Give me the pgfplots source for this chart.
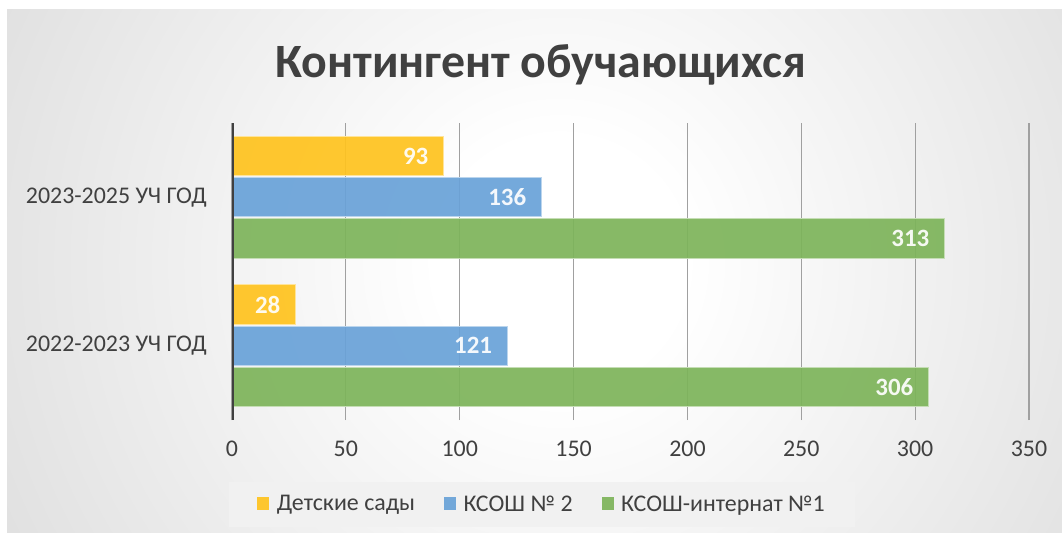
\documentclass[border=0pt]{standalone}
\usepackage{fontspec}
\setmainfont{Carlito}
\usepackage{pgfplots}
\pgfplotsset{compat=1.18}
\definecolor{cY}{RGB}{255,195,30}
\definecolor{cB}{RGB}{105,162,216}
\definecolor{cG}{RGB}{125,180,90}
\definecolor{txt}{RGB}{64,64,64}
\definecolor{gridc}{RGB}{160,160,160}
\definecolor{bgout}{RGB}{194,194,194}
\definecolor{legfill}{RGB}{241,241,241}
\pgfdeclareradialshading{bgshade}{\pgfpoint{0bp}{0bp}}{color(0bp)=(white); color(5bp)=(white); color(45bp)=(bgout); color(50bp)=(bgout)}
\begin{document}
\begin{tikzpicture}
\path[use as bounding box] (0bp,0bp) rectangle (1062bp,533bp);
\fill[white] (0bp,0bp) rectangle (1062bp,533bp);
\begin{scope}
\clip (7bp,0bp) rectangle (1062bp,523bp);
\shade[shading=bgshade] (560bp,270bp) circle (620bp);
\end{scope}
\node[font=\fontsize{48}{56}\selectfont\bfseries, text=txt, anchor=base, inner sep=0pt] at (541bp,455bp) {Контингент обучающихся};
\begin{axis}[
  at={(232bp,113bp)}, anchor=south west,
  scale only axis, width=797bp, height=297bp,
  xmin=0, xmax=350, ymin=-0.5, ymax=1.5,
  xbar, bar width=0.265,
  axis line style={draw=none},
  xtick={0,50,...,350}, ytick={0,1},
  yticklabels={2022-2023 УЧ ГОД, 2023-2025 УЧ ГОД},
  major tick length=0pt,
  xmajorgrids, grid style={draw=gridc, line width=1.1bp},
  /pgf/number format/assume math mode=true,
  xticklabel style={font=\fontsize{24}{28}\selectfont, text=txt, inner sep=0pt, yshift=-21bp},
  yticklabel style={font=\fontsize{24}{28}\selectfont, text=txt, inner sep=0pt, xshift=-25bp},
  nodes near coords,
  point meta=x,
  nodes near coords style={anchor=east, xshift=-15bp, font=\fontsize{25}{29}\selectfont\bfseries, text=white, inner sep=0pt},
  legend style={at={(0.389,-0.283)}, anchor=center, legend columns=3, fill=legfill, draw=none,
    font=\fontsize{24}{28}\selectfont, text=txt, inner xsep=28bp, inner ysep=12bp,
    /tikz/every even column/.append style={column sep=27bp}},
  legend image code/.code={\fill[#1, draw=none] (0bp,-6bp) rectangle (12bp,7bp); \path (17bp,0bp);},
  legend cell align=left,
]
\addplot[fill=cY, draw=cY!45!white, line width=1bp, fill opacity=0.92, bar shift=0.277] coordinates {(28,0) (93,1)};
\addplot[fill=cB, draw=cB!45!white, line width=1bp, fill opacity=0.92, bar shift=0] coordinates {(121,0) (136,1)};
\addplot[fill=cG, draw=cG!45!white, line width=1bp, fill opacity=0.92, bar shift=-0.277] coordinates {(306,0) (313,1)};
\legend{Детские сады, КСОШ № 2, КСОШ-интернат №1}
\draw[line width=3.5bp, draw=txt] (rel axis cs:0,0) -- (rel axis cs:0,1);
\end{axis}
\end{tikzpicture}
\end{document}
